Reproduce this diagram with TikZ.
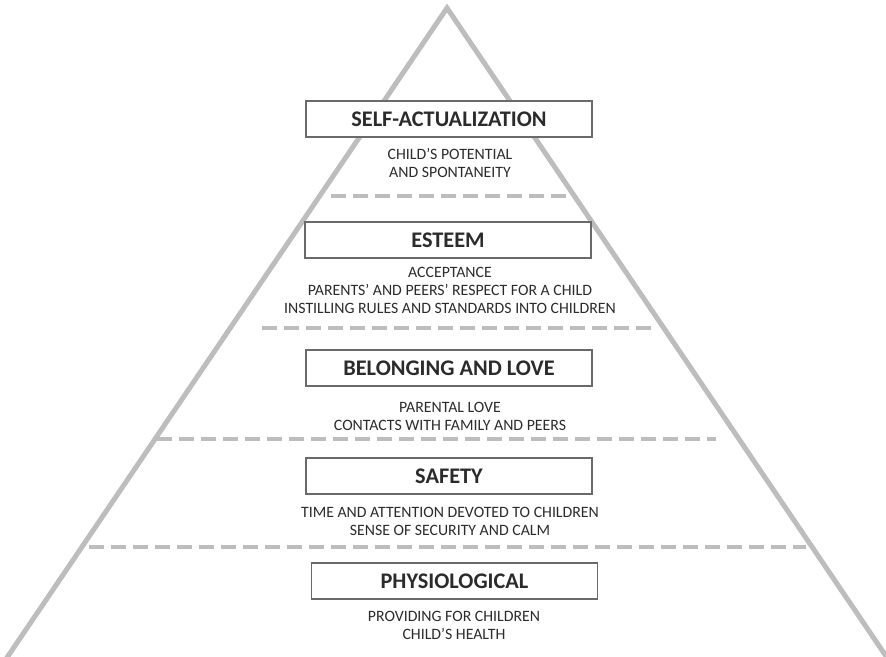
\documentclass[tikz,border=0pt]{standalone}
\usepackage{fontspec}
\setmainfont{Carlito}
\definecolor{legc}{HTML}{BDBDBD}
\definecolor{boxc}{HTML}{6A6A6A}
\definecolor{txtc}{HTML}{2B2B2B}
\begin{document}
\begin{tikzpicture}[x=1pt,y=-1pt,
  leg/.style={draw=legc,line width=5pt,line join=miter},
  divider/.style={draw=legc,line width=4pt,dash pattern=on 15pt off 7pt},
  lvl/.style={draw=boxc,fill=white,line width=1.3pt,minimum width=286pt,minimum height=36pt,inner sep=0pt,
    font=\fontsize{22.3}{24}\selectfont\bfseries,text=txtc},
  desc/.style={align=center,inner sep=0pt,font=\fontsize{15.8}{18}\selectfont,text=txtc}]
\useasboundingbox (0,0) rectangle (886,656);
\coordinate (apex) at (447,8);
\coordinate (bl) at (4,662);
\coordinate (br) at (890,662);
\draw[leg] (bl) -- (apex) -- (br);
\draw[divider] (331,196) -- (572,196);
\draw[divider] (262,328) -- (655,328);
\draw[divider] (157,439) -- (716,439);
\draw[divider] (89,547) -- (806,547);
\node[lvl] (self) at (449,119) {SELF-ACTUALIZATION};
\node[desc] (selfd) at (450,163) {CHILD’S POTENTIAL\\AND SPONTANEITY};
\node[lvl] (est) at (448,240) {ESTEEM};
\node[desc] (estd) at (450,290) {ACCEPTANCE\\PARENTS’ AND PEERS’ RESPECT FOR A CHILD\\INSTILLING RULES AND STANDARDS INTO CHILDREN};
\node[lvl] (bel) at (449,368) {BELONGING AND LOVE};
\node[desc] (beld) at (450,416) {PARENTAL LOVE\\CONTACTS WITH FAMILY AND PEERS};
\node[lvl] (saf) at (449,476) {SAFETY};
\node[desc] (safd) at (450,521) {TIME AND ATTENTION DEVOTED TO CHILDREN\\SENSE OF SECURITY AND CALM};
\node[lvl] (phy) at (454.5,581) {PHYSIOLOGICAL};
\node[desc] (phyd) at (454,625) {PROVIDING FOR CHILDREN\\CHILD’S HEALTH};
\end{tikzpicture}
\end{document}
